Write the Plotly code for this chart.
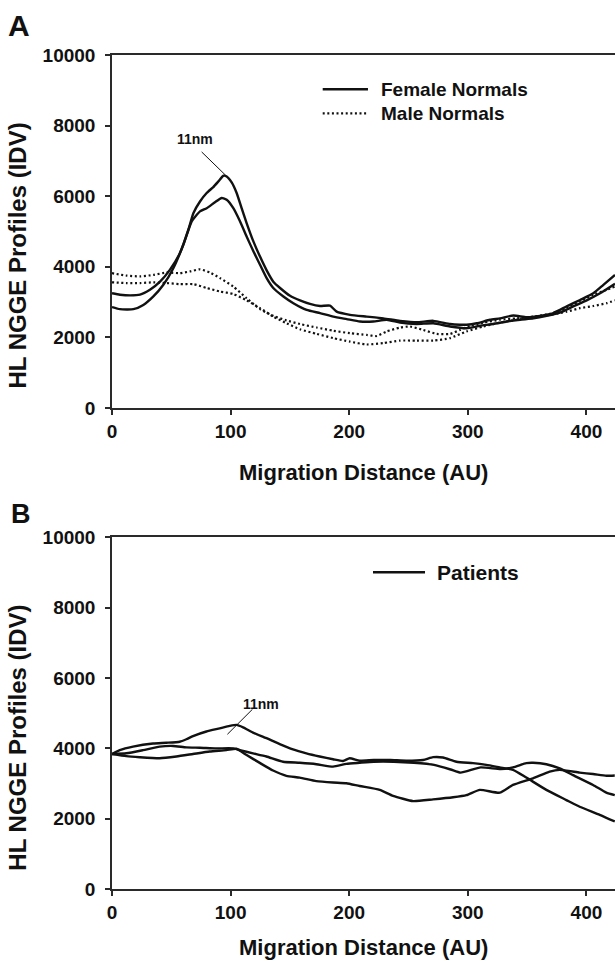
import plotly.graph_objects as go

# ---------------- Panel A: normal controls ----------------
a_female1_x = [0, 6.7, 15.2, 23.6, 32.0, 40.5, 48.9, 57.3, 64.4, 68.6, 74.2, 79.8, 85.4, 89.7, 93.9,
               96.7, 100.9, 105.1, 109.3, 113.5, 119.2, 124.8, 130.4, 136.0, 141.7, 150.1, 158.5,
               166.9, 175.4, 183.8, 189.4, 200.7, 214.7, 228.8, 242.8, 256.9, 270.9, 285.0, 293.4,
               299.0, 307.5, 318.7, 327.2, 338.4, 349.6, 360.9, 372.1, 383.4, 394.6, 405.8, 414.3, 424.1]
a_female1_y = [3250, 3210, 3190, 3210, 3350, 3580, 3920, 4390, 5050, 5520, 5850, 6090, 6260, 6420, 6580,
               6560, 6390, 6090, 5660, 5240, 4720, 4290, 3900, 3580, 3400, 3180, 3050,
               2950, 2890, 2900, 2730, 2640, 2590, 2540, 2470, 2430, 2470, 2380, 2360,
               2360, 2400, 2500, 2540, 2620, 2570, 2610, 2690, 2880, 3060, 3250, 3490, 3770]

a_female2_x = [0, 6.7, 18.0, 26.4, 34.9, 43.3, 51.7, 60.1, 67.2, 74.2, 79.8, 86.8, 92.5, 96.7, 102.3,
               107.9, 113.5, 119.2, 124.8, 130.4, 136.0, 144.5, 152.9, 164.1, 175.4, 186.6, 197.9,
               209.1, 220.3, 231.6, 242.8, 256.9, 270.9, 285.0, 299.0, 310.3, 321.5, 332.8, 344.0,
               355.3, 366.5, 377.7, 389.0, 400.2, 411.5, 424.1]
a_female2_y = [2860, 2800, 2800, 2920, 3160, 3490, 3960, 4620, 5290, 5570, 5660, 5830, 5950, 5900, 5660,
               5290, 4860, 4440, 4060, 3680, 3400, 3160, 2970, 2780, 2690, 2590, 2520,
               2450, 2450, 2500, 2420, 2380, 2400, 2310, 2260, 2330, 2380, 2450, 2500,
               2540, 2610, 2700, 2880, 3050, 3250, 3520]

a_male1_x = [0, 12.4, 23.6, 34.9, 46.1, 57.3, 65.8, 74.2, 82.6, 91.1, 102.3, 113.5, 124.8, 136.0,
             147.3, 158.5, 172.6, 186.6, 200.7, 214.7, 223.2, 231.6, 242.8, 251.3, 262.5, 273.7,
             285.0, 293.4, 301.9, 313.1, 327.2, 341.2, 355.3, 369.3, 383.4, 394.6, 405.8, 417.1, 424.1]
a_male1_y = [3820, 3750, 3730, 3770, 3840, 3820, 3870, 3930, 3840, 3680, 3440, 3110, 2800, 2610,
             2480, 2380, 2280, 2190, 2120, 2070, 2040, 2170, 2280, 2310, 2210, 2100,
             2100, 2210, 2330, 2420, 2500, 2540, 2590, 2670, 2830, 3020, 3210, 3350, 3440]

a_male2_x = [0, 12.4, 23.6, 34.9, 46.1, 57.3, 68.6, 79.8, 91.1, 102.3, 113.5, 124.8, 136.0, 147.3,
             158.5, 172.6, 186.6, 200.7, 214.7, 228.8, 242.8, 256.9, 270.9, 285.0, 299.0, 313.1,
             327.2, 341.2, 355.3, 369.3, 383.4, 394.6, 405.8, 417.1, 424.1]
a_male2_y = [3560, 3540, 3540, 3560, 3540, 3510, 3510, 3400, 3300, 3230, 3050, 2830, 2590, 2400,
             2230, 2100, 1980, 1880, 1800, 1840, 1910, 1910, 1910, 1980, 2170, 2310,
             2420, 2500, 2570, 2640, 2730, 2830, 2890, 2970, 3050]

# ---------------- Panel B: patients ----------------
b_patient1_x = [0, 6.5, 17.7, 34.6, 45.8, 57.1, 62.7, 68.3, 79.6, 90.8, 99.2, 104.9, 110.5, 118.9,
                130.2, 141.4, 152.6, 163.9, 175.1, 186.4, 194.8, 200.4, 208.8, 220.7, 234.7, 248.2,
                262.3, 270.7, 279.1, 290.4, 304.4, 315.6, 326.9, 338.1, 349.3, 366.2, 383.1, 394.3,
                411.2, 423.9]
b_patient1_y = [3840, 3950, 4050, 4140, 4160, 4190, 4260, 4350, 4480, 4570, 4640, 4670, 4600, 4450,
                4290, 4120, 3970, 3860, 3770, 3690, 3640, 3720, 3650, 3670, 3670, 3650,
                3670, 3750, 3740, 3620, 3580, 3530, 3460, 3390, 3170, 2820, 2530, 2340,
                2110, 1920]

b_patient2_x = [0, 12.1, 26.2, 40.2, 51.5, 62.7, 74.0, 88.0, 102.1, 107.7, 118.9, 130.2, 144.2,
                158.3, 172.3, 186.4, 197.6, 208.8, 220.7, 237.6, 254.5, 271.5, 285.5, 293.9, 310.9,
                327.7, 338.1, 349.3, 355.0, 366.2, 377.5, 388.7, 405.6, 416.8, 423.9]
b_patient2_y = [3840, 3860, 3950, 4050, 4070, 4030, 4020, 4000, 4000, 3950, 3860, 3770, 3620,
                3590, 3550, 3480, 3560, 3590, 3620, 3620, 3590, 3530, 3400, 3310, 3460,
                3410, 3460, 3580, 3590, 3550, 3430, 3240, 2960, 2740, 2670]

b_patient3_x = [0, 12.1, 23.4, 40.2, 54.3, 68.3, 82.4, 96.4, 104.9, 113.5, 124.9, 135.8, 147.0,
                158.3, 172.3, 186.4, 197.6, 208.8, 225.7, 237.0, 253.9, 270.7, 287.6, 298.8, 310.1,
                326.9, 338.1, 355.0, 369.0, 377.5, 394.3, 405.6, 416.8, 423.9]
b_patient3_y = [3840, 3780, 3750, 3720, 3770, 3840, 3910, 3950, 3990, 3810, 3580, 3370, 3220,
                3170, 3070, 3030, 3010, 2930, 2820, 2650, 2500, 2550, 2610, 2670, 2820,
                2740, 2960, 3150, 3340, 3390, 3310, 3270, 3220, 3230]

x_ticks = [0, 100, 200, 300, 400]
y_ticks = [0, 2000, 4000, 6000, 8000, 10000]
y_tick_labels = ["0", "2000", "4000", "6000", "8000", "10000"]
x_range = [0, 424.1]
y_range = [0, 10000]

INK = "#111111"
AXIS = "#2a2a2a"
FONT = "Liberation Sans, Arial, Helvetica, sans-serif"

fig = go.Figure()

solid = dict(color=INK, width=2.4)
dotted = dict(color=INK, width=2.2, dash="2px,2.6px")

for xs, ys in [(a_female1_x, a_female1_y), (a_female2_x, a_female2_y)]:
    fig.add_trace(go.Scatter(x=xs, y=ys, mode="lines", line=dict(**solid, shape="spline", smoothing=0.5),
                             xaxis="x", yaxis="y", showlegend=False, hoverinfo="skip"))
for xs, ys in [(a_male1_x, a_male1_y), (a_male2_x, a_male2_y)]:
    fig.add_trace(go.Scatter(x=xs, y=ys, mode="lines", line=dict(**dotted, shape="spline", smoothing=0.5),
                             xaxis="x", yaxis="y", showlegend=False, hoverinfo="skip"))
for xs, ys in [(b_patient1_x, b_patient1_y), (b_patient2_x, b_patient2_y), (b_patient3_x, b_patient3_y)]:
    fig.add_trace(go.Scatter(x=xs, y=ys, mode="lines", line=dict(**solid, shape="spline", smoothing=0.5),
                             xaxis="x2", yaxis="y2", showlegend=False, hoverinfo="skip"))

tick_font = dict(family=FONT, size=19, color=INK, weight="bold")
common_x = dict(range=x_range, tickvals=x_ticks, ticks="outside", ticklen=5, tickwidth=1.5,
                tickcolor=AXIS, showline=True, linecolor=AXIS, linewidth=1.5, mirror=True,
                showgrid=False, zeroline=False, tickfont=tick_font, fixedrange=True)
common_y = dict(range=y_range, tickvals=y_ticks, ticktext=y_tick_labels, ticks="outside", ticklen=5,
                tickwidth=1.5, tickcolor=AXIS, showline=True, linecolor=AXIS, linewidth=1.5,
                mirror=False, showgrid=False, zeroline=False, tickfont=tick_font,
                ticklabelstandoff=6, fixedrange=True)

fig.update_layout(
    width=615, height=964,
    margin=dict(l=112, r=0, t=55, b=75),
    paper_bgcolor="white", plot_bgcolor="white",
    showlegend=False,
    xaxis=dict(domain=[0, 1], anchor="y", **common_x),
    yaxis=dict(domain=[0.5767, 1.0], anchor="x", **common_y),
    xaxis2=dict(domain=[0, 1], anchor="y2", **common_x),
    yaxis2=dict(domain=[0.0, 0.4215], anchor="x2", **common_y),
)

ann = []
shapes = []

def txt(text, x, y, size, xref="paper", yref="paper", angle=0, xanchor="center"):
    ann.append(dict(text=text, x=x, y=y, xref=xref, yref=yref, showarrow=False, textangle=angle,
                    xanchor=xanchor, yanchor="middle",
                    font=dict(family=FONT, size=size, color=INK, weight="bold")))

# panel letters
txt("A", -0.185, 1.0348, 30)
txt("B", -0.181, 0.450, 27)

# axis titles
txt("HL NGGE Profiles (IDV)", -0.188, 0.760, 24, angle=-90)
txt("HL NGGE Profiles (IDV)", -0.188, 0.182, 24, angle=-90)
txt("Migration Distance (AU)", 0.5, 0.500, 22)
txt("Migration Distance (AU)", 0.5, -0.0707, 22)

# legend, panel A
shapes.append(dict(type="line", xref="paper", yref="paper", x0=0.4189, x1=0.5089, y0=0.9589, y1=0.9589,
                   line=dict(color=INK, width=2.6)))
shapes.append(dict(type="line", xref="paper", yref="paper", x0=0.4189, x1=0.5089, y0=0.9301, y1=0.9301,
                   line=dict(color=INK, width=2.2, dash="2px,2.6px")))
txt("Female Normals", 0.5308, 0.9589, 19, xanchor="left")
txt("Male Normals", 0.5308, 0.9301, 19, xanchor="left")

# legend, panel B
shapes.append(dict(type="line", xref="paper", yref="paper", x0=0.5189, x1=0.6223, y0=0.3798, y1=0.3798,
                   line=dict(color=INK, width=2.6)))
txt("Patients", 0.6427, 0.3798, 21, xanchor="left")

# peak labels with leader lines
txt("11nm", 70.0, 7631, 14, xref="x", yref="y")
shapes.append(dict(type="line", xref="x", yref="y", x0=75.6, y0=7254, x1=95.9, y1=6590,
                   line=dict(color=INK, width=1)))
txt("11nm", 125.4, 5263, 14, xref="x2", yref="y2")
shapes.append(dict(type="line", xref="x2", yref="y2", x0=118.4, y0=5112, x1=97.3, y1=4401,
                   line=dict(color=INK, width=1)))

fig.update_layout(annotations=ann, shapes=shapes)

fig.write_html("out.html", config={"displayModeBar": False})
